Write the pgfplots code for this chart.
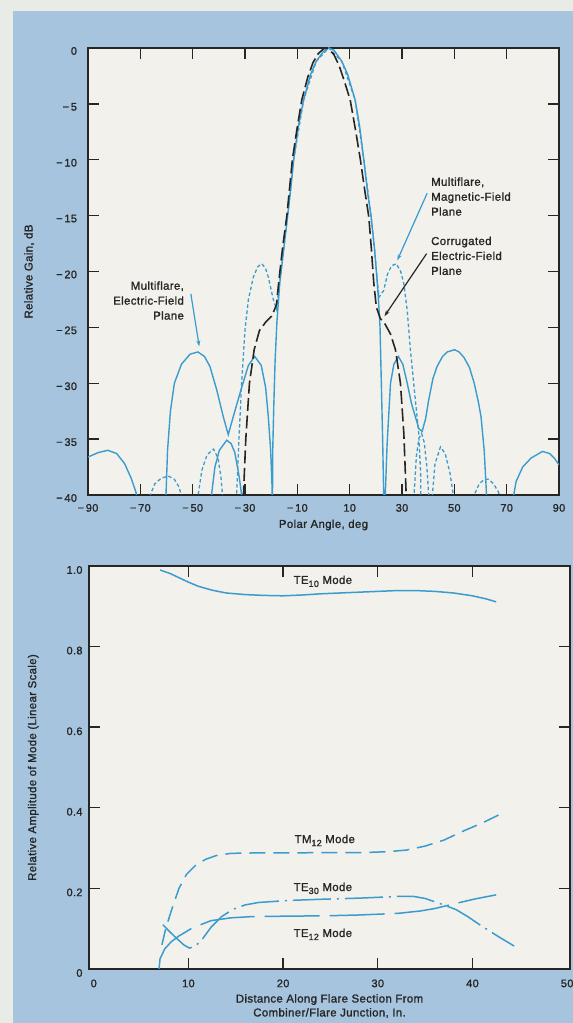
\documentclass[border=0pt]{standalone}
\usepackage{fontspec}
\setmainfont{Liberation Sans}[LetterSpace=3, RawFeature={embolden=1.3}]
\usepackage{pgfplots}
\pgfplotsset{compat=1.18}
\usetikzlibrary{arrows.meta}
\definecolor{pagebg}{RGB}{166,196,221}
\definecolor{stripbg}{RGB}{233,235,231}
\definecolor{plotbg}{RGB}{242,241,236}
\definecolor{curve}{RGB}{58,155,206}
\definecolor{ink}{RGB}{38,38,38}
\newcommand\sub[1]{\raisebox{-3bp}{\fontsize{9}{9}\selectfont #1}}
\begin{document}
\begin{tikzpicture}[x=1bp,y=1bp]
\fill[stripbg] (0,0) rectangle (573,1023);
\fill[pagebg] (13,0) rectangle (573,1012);
\path[use as bounding box] (0,0) rectangle (573,1023);
\pgfplotsset{
  common/.style={
    scale only axis, anchor=south west,
    axis background/.style={fill=plotbg},
    axis line style={line width=1.5bp, draw=ink},
    tick align=inside, major tick length=11bp,
    tick style={line width=1.4bp, draw=ink},
    xtick pos=both, ytick pos=both,
    xticklabel pos=bottom, yticklabel pos=left,
    tick label style={font=\fontsize{11}{13}\selectfont, text=ink},
    label style={font=\fontsize{11.5}{14}\selectfont, text=ink},
    clip mode=individual,
  }
}
% ---------------- top plot ----------------
\begin{axis}[common,
  at={(88bp,528bp)}, width=471bp, height=447bp,
  xmin=-90, xmax=90, ymin=-40, ymax=0,
  xtick={-90,-70,...,90},
  xticklabels={−\,90,−\,70,−\,50,−\,30,−\,10,10,30,50,70,90},
  ytick={-40,-35,...,0},
  yticklabels={−\,40,−\,35,−\,30,−\,25,−\,20,−\,15,−\,10,−\,5,0},
  xticklabel style={yshift=-5.5bp},
  yticklabel style={xshift=-7.5bp, yshift=-3bp},
  xlabel={Polar Angle, deg},
  ylabel={Relative Gain, dB},
  xlabel style={at={(axis description cs:0.5,-0.067)}, anchor=center},
  ylabel style={at={(axis description cs:-0.125,0.5)}, anchor=center},
]
% Multiflare, electric-field plane (solid)
\addplot[curve, line width=1.4bp] coordinates {
(-90,-36.6) (-86,-36.2) (-82.4,-36.0) (-79,-36.3) (-76,-37.2) (-73.5,-38.5) (-71.6,-39.8) (-70.8,-45)
(-60.6,-45) (-60.2,-40) (-59.6,-36) (-58.5,-32.5) (-57,-30) (-54.3,-28.3) (-51,-27.4) (-48,-27.2) (-45.5,-27.6) (-43.4,-28.5) (-40.8,-30.6) (-38.3,-33.0) (-36.4,-34.6) (-34.5,-33.0) (-31.3,-30.4) (-28.7,-28.4) (-26.3,-27.6) (-23.8,-28.4) (-22.1,-30.4) (-21.1,-33) (-20.2,-36) (-19.7,-39) (-19.6,-45)
(-19.4,-36) (-19.0,-32) (-18.5,-28) (-17.8,-24.5) (-16.7,-21) (-15.2,-18) (-13.7,-15) (-12.6,-12.8) (-11.4,-10) (-9.6,-7) (-7.6,-4.65) (-5,-2.4) (-2.8,-1.2) (0,-0.3) (2,0) (4,-0.2) (7,-1.2) (9.2,-2.35) (12.1,-4.65) (13.8,-7) (15.4,-10) (16.9,-13) (18.2,-15.1) (19.5,-18) (20.4,-20.5) (21.0,-22.5) (21.6,-25) (22.1,-30) (22.6,-35) (23,-40) (23.2,-45)
(23.4,-45) (23.6,-40) (24.3,-35.5) (25.6,-30) (26.9,-28.3) (28.6,-27.6) (30.3,-28.3) (32,-30) (33.6,-31.8) (35.1,-33) (36.5,-34.1) (37.7,-34.3) (39,-33.2) (40.2,-31.5) (41.8,-29.6) (43.4,-28.5) (45.5,-27.6) (47.3,-27.2) (50.1,-27.0) (51.8,-27.2) (53.7,-27.7) (55.8,-28.6) (57.6,-30) (59.2,-31.7) (60.2,-33) (61.4,-36) (62.2,-39.5) (62.5,-45)
(72.4,-45) (72.7,-40) (73.6,-38.8) (76.1,-37.5) (79.3,-36.7) (83.7,-36.1) (86.5,-36.3) (88.2,-36.7) (90,-37.3)
};
\addplot[curve, line width=1.4bp] coordinates {
(-43,-45) (-42.8,-40) (-41.5,-37.5) (-39.8,-36) (-37,-35.1) (-35.3,-35.4) (-33.9,-36.2) (-32.2,-38.4) (-31.3,-40) (-31,-45)
};
% Multiflare, magnetic-field plane (short dashes)
\addplot[curve, line width=1.3bp, dash pattern=on 3.5bp off 2.5bp] coordinates {
(-67,-45) (-66.2,-40) (-64.5,-39) (-62,-38.5) (-59.3,-38.3) (-57,-38.6) (-55.2,-39.3) (-54,-40.3) (-53.6,-45)
(-48.5,-45) (-47.9,-40) (-46.5,-37.8) (-44.5,-36.4) (-42,-35.9) (-40.3,-36.7) (-39.2,-38.4) (-38.6,-40) (-38.3,-45)
(-33.6,-45) (-33.2,-40) (-32.3,-35) (-31.3,-30) (-30,-25.2) (-28.7,-22.5) (-26.8,-20.5) (-25.2,-19.6) (-23.6,-19.3) (-22.2,-19.7) (-21.1,-20.5) (-19.2,-22.5) (-17.9,-23.4)
(-16.8,-21) (-15.2,-18) (-13.7,-15) (-11.4,-10) (-7.6,-4.65) (-2.8,-1.2) (2,0) (7,-1.2) (12.1,-4.65) (15.4,-10) (18.2,-15.1) (19.5,-18) (20.4,-20.5) (21.2,-22.3)
(23,-21.7) (24.5,-20.2) (26,-19.5) (27.8,-19.3) (29.5,-20) (30.7,-21.1) (32,-23.5) (33.2,-27) (35.1,-31.5) (36.4,-34.5) (37.1,-38) (37.4,-45)
(34.3,-45) (34.6,-40) (35.5,-36.5) (36.5,-34.9) (37.5,-34.5) (38.5,-35.3) (39.5,-37.5) (40.2,-40) (40.5,-45)
(41.3,-45) (41.6,-40) (42.6,-37.2) (44.7,-35.7) (46.5,-36.3) (48.3,-38) (49.6,-40) (50,-45)
(57.2,-45) (57.6,-40) (59.5,-39) (61.5,-38.6) (63.1,-38.6) (65,-39) (67,-39.8) (67.8,-45)
};
% Corrugated, electric-field plane (long dashes, black)
\addplot[ink, line width=1.6bp, dash pattern=on 13bp off 4.5bp] coordinates {
(-31.2,-45) (-30.6,-40) (-29.7,-35) (-28.3,-30) (-26.5,-27) (-24.5,-25.3) (-22,-24.5) (-19.8,-24) (-18,-23) (-16.9,-20.5) (-15.6,-17.8) (-14,-15) (-11.9,-10) (-10.1,-7.2) (-8.3,-4.65) (-6,-2.6) (-4,-1.3) (-2,-0.5) (0,-0.08) (1,0) (2,-0.08) (4,-0.6) (6,-1.6) (8,-3) (10.2,-4.65) (12.2,-7.3) (14.1,-10) (15.8,-12.8) (17.3,-15.1) (18.3,-18) (19.2,-21) (20.2,-23.2) (21.7,-24.2) (23.5,-24.7) (25.6,-25.6) (27.5,-27) (29.4,-30) (30.7,-34.5) (31.6,-40) (32.2,-45)
};
\node[align=right, anchor=east, text=ink, font=\fontsize{11.5}{15}\selectfont] at (axis cs:-52,-22.6) {Multiflare,\\Electric-Field\\Plane};
\node[align=left, anchor=west, text=ink, font=\fontsize{11.5}{15}\selectfont] at (axis cs:39.8,-13.3) {Multiflare,\\Magnetic-Field\\Plane};
\node[align=left, anchor=west, text=ink, font=\fontsize{11.5}{15}\selectfont] at (axis cs:39.8,-18.6) {Corrugated\\Electric-Field\\Plane};
\draw[curve, line width=1.2bp, -{Stealth[length=6bp,width=4bp]}] (axis cs:-50.7,-22.0) -- (axis cs:-47.5,-26.7);
\draw[curve, line width=1.2bp, -{Stealth[length=6bp,width=4bp]}] (axis cs:39.6,-13.0) -- (axis cs:28.2,-19.0);
\draw[ink, line width=1.2bp, -{Stealth[length=6bp,width=4bp]}] (axis cs:39.4,-18.4) -- (axis cs:23.3,-24.0);
\end{axis}
% ---------------- bottom plot ----------------
\begin{axis}[common,
  at={(89bp,54bp)}, width=481bp, height=403bp,
  xmin=-0.5, xmax=50.3, ymin=0, ymax=1,
  xtick={10,20,30,40}, xticklabels={10,20,30,40},
  ytick={0.2,0.4,0.6,0.8}, yticklabels={0.2,0.4,0.6,0.8},
  extra x ticks={0,50}, extra x tick labels={0,50},
  extra y ticks={0,1}, extra y tick labels={0,1.0},
  extra x tick style={major tick length=0pt},
  extra y tick style={major tick length=0pt},
  xticklabel style={yshift=-7bp},
  yticklabel style={xshift=-3bp, yshift=-4bp},
  xlabel={Distance Along Flare Section From\\Combiner/Flare Junction, In.},
  ylabel={Relative Amplitude of Mode (Linear Scale)},
  xlabel style={align=center, at={(axis description cs:0.5,-0.092)}, anchor=center},
  ylabel style={at={(axis description cs:-0.116,0.5)}, anchor=center},
]
% TE10
\addplot[curve, line width=1.5bp] coordinates {
(7.0,0.99) (8.0,0.982) (9.0,0.971) (10,0.960) (11,0.950) (12.5,0.940) (14,0.933) (16,0.929) (18,0.927) (20,0.926) (22,0.928) (24,0.931) (26,0.933) (28,0.935) (30,0.937) (32,0.939) (34,0.939) (36,0.937) (38,0.933) (40,0.926) (41.5,0.918) (42.5,0.911)
};
% TM12
\addplot[curve, line width=1.5bp, dash pattern=on 16bp off 8bp] coordinates {
(7.2,0.06) (7.6,0.1) (8.2,0.145) (9.0,0.2) (9.8,0.235) (10.7,0.256) (11.8,0.272) (13,0.282) (14.5,0.287) (17,0.288) (20.5,0.288) (25,0.289) (28.5,0.289) (31,0.291) (33,0.295) (35,0.305) (37,0.32) (39,0.342) (41,0.362) (43.1,0.386)
};
% TE12
\addplot[curve, line width=1.5bp, dash pattern=on 55bp off 10bp] coordinates {
(6.9,0) (7.0,0.025) (7.5,0.05) (8.2,0.068) (9.0,0.082) (10.5,0.103) (12.4,0.12) (14.5,0.127) (16.7,0.13) (20,0.131) (24.4,0.132) (28,0.134) (32.1,0.138) (34.5,0.144) (36.0,0.15) (38.3,0.163) (40.3,0.174) (42.5,0.184)
};
% TE30
\addplot[curve, line width=1.5bp, dash pattern=on 38bp off 6bp on 2bp off 6bp] coordinates {
(7.3,0.11) (8.0,0.093) (8.8,0.075) (9.5,0.06) (10.1,0.052) (10.7,0.056) (11.5,0.075) (12.4,0.104) (13.5,0.13) (14.7,0.148) (16,0.159) (17.4,0.165) (20.5,0.17) (24,0.173) (28.2,0.176) (32.1,0.18) (33.8,0.18) (35,0.175) (36,0.167) (37.2,0.157) (38.3,0.147) (39.5,0.13) (41,0.106) (42.7,0.081) (44.4,0.057)
};
\node[text=ink, font=\fontsize{11.5}{14}\selectfont] at (axis cs:24.2,0.962) {TE\sub{10} Mode};
\node[text=ink, font=\fontsize{11.5}{14}\selectfont] at (axis cs:24.4,0.319) {TM\sub{12} Mode};
\node[text=ink, font=\fontsize{11.5}{14}\selectfont] at (axis cs:24.2,0.200) {TE\sub{30} Mode};
\node[text=ink, font=\fontsize{11.5}{14}\selectfont] at (axis cs:24.2,0.086) {TE\sub{12} Mode};
\end{axis}
\end{tikzpicture}
\end{document}
